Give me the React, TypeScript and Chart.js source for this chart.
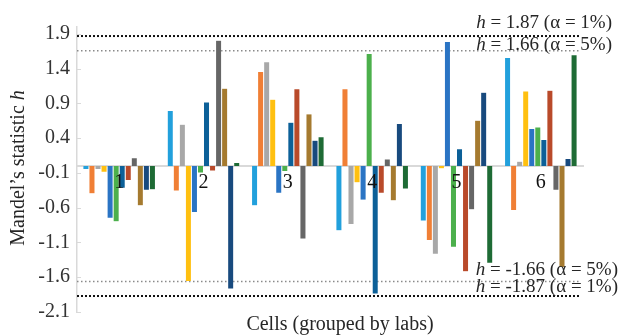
import React, { useEffect, useRef } from "react";
import { Chart, registerables } from "chart.js";

Chart.register(...registerables);

const labs = ["1", "2", "3", "4", "5", "6"];
const cellColors = [
  "#22a0dc", "#f07f35", "#a8a8a8", "#ffc010", "#2a74c4", "#4cb04c",
  "#0c6098", "#b94a2a", "#666666", "#a57a2f", "#184a7e", "#1e6b35",
];
const cell1 = [-0.05, 0.8, -0.57, -0.93, -0.79, 1.56];
const cell2 = [-0.4, -0.36, 1.36, 1.11, -1.07, -0.64];
const cell3 = [-0.05, 0.6, 1.5, -0.84, -1.27, 0.07];
const cell4 = [-0.09, -1.66, 0.96, -0.24, -0.04, 1.08];
const cell5 = [-0.75, -0.67, -0.39, -0.49, 1.79, 0.54];
const cell6 = [-0.8, -0.1, -0.08, 1.62, -1.17, 0.56];
const cell7 = [-0.32, 0.92, 0.63, -1.84, 0.25, 0.38];
const cell8 = [-0.21, -0.07, 1.11, -0.39, -1.52, 1.09];
const cell9 = [0.12, 1.81, -1.05, 0.1, -0.63, -0.35];
const cell10 = [-0.57, 1.12, 0.75, -0.5, 0.66, -1.46];
const cell11 = [-0.35, -1.77, 0.37, 0.61, 1.06, 0.11];
const cell12 = [-0.34, 0.05, 0.42, -0.33, -1.4, 1.6];
const cells = [cell1, cell2, cell3, cell4, cell5, cell6, cell7, cell8, cell9, cell10, cell11, cell12];

const yTicks = [-2.1, -1.6, -1.1, -0.6, -0.1, 0.4, 0.9, 1.4, 1.9];
const hValues = [1.87, 1.66, -1.66, -1.87];
const hAlpha = ["1%", "5%", "5%", "1%"];

const SERIF = "'Liberation Serif', 'Times New Roman', serif";

const overlay = {
  id: "overlay",
  beforeDatasetsDraw(chart: any) {
    const { ctx, chartArea, scales } = chart;
    const y = scales.y;
    ctx.save();
    ctx.strokeStyle = "#d9d9d9";
    ctx.lineWidth = 1;
    yTicks.forEach((t) => {
      const py = Math.round(y.getPixelForValue(t)) + 0.5;
      ctx.beginPath();
      ctx.moveTo(chartArea.left, py);
      ctx.lineTo(chartArea.left + 4, py);
      ctx.stroke();
    });
    hValues.forEach((v, i) => {
      const py = y.getPixelForValue(v);
      const strong = hAlpha[i] === "1%";
      ctx.strokeStyle = strong ? "#111" : "#8a8a8a";
      ctx.lineWidth = strong ? 2 : 1.5;
      ctx.setLineDash(strong ? [2, 2] : [1.5, 2.5]);
      ctx.beginPath();
      ctx.moveTo(chartArea.left, py);
      ctx.lineTo(chartArea.right - 4, py);
      ctx.stroke();
    });
    ctx.restore();
  },
  afterDraw(chart: any) {
    const { ctx } = chart;
    ctx.save();
    ctx.fillStyle = "#262626";
    ctx.textBaseline = "middle";
    const pos = [
      { x: 612, y: 23 },
      { x: 612, y: 45 },
      { x: 618, y: 270 },
      { x: 618, y: 287 },
    ];
    hValues.forEach((v, i) => {
      const rest = " = " + v.toFixed(2) + " (α = " + hAlpha[i] + ")";
      ctx.font = "19px " + SERIF;
      const wRest = ctx.measureText(rest).width;
      ctx.textAlign = "left";
      ctx.fillText(rest, pos[i].x - wRest, pos[i].y);
      ctx.font = "italic 19px " + SERIF;
      const wH = ctx.measureText("h").width;
      ctx.fillText("h", pos[i].x - wRest - wH, pos[i].y);
    });
    ctx.save();
    ctx.translate(19, 168);
    ctx.rotate(-Math.PI / 2);
    ctx.font = "20px " + SERIF;
    const t1 = "Mandel’s statistic ";
    const w1 = ctx.measureText(t1).width;
    ctx.font = "italic 20px " + SERIF;
    const w2 = ctx.measureText("h").width;
    const start = -(w1 + w2) / 2;
    ctx.font = "20px " + SERIF;
    ctx.textAlign = "left";
    ctx.fillText(t1, start, 0);
    ctx.font = "italic 20px " + SERIF;
    ctx.fillText("h", start + w1, 0);
    ctx.restore();
    ctx.font = "20px " + SERIF;
    ctx.textAlign = "center";
    ctx.fillText("Cells (grouped by labs)", 340, 325);
    ctx.restore();
  },
};

export default function App() {
  const ref = useRef<HTMLCanvasElement>(null);
  useEffect(() => {
    const chart = new Chart(ref.current!, {
      type: "bar",
      data: {
        labels: labs,
        datasets: cells.map((c, i) => ({
          label: "Cell " + (i + 1),
          data: c,
          backgroundColor: cellColors[i],
          borderColor: "rgba(255,255,255,0.35)",
          borderWidth: 0.5,
          barPercentage: 1,
          categoryPercentage: 0.86,
        })),
      },
      options: {
        animation: false,
        responsive: false,
        maintainAspectRatio: false,
        layout: { padding: { left: 0, top: 27, right: 39, bottom: 24 } },
        plugins: { legend: { display: false }, tooltip: { enabled: false } },
        scales: {
          x: {
            position: { y: 0 } as any,
            grid: { display: false, drawTicks: false },
            border: { display: true, color: "#d9d9d9", width: 2 },
            ticks: {
              z: 1,
              color: "#111",
              font: { family: SERIF, size: 20 },
              padding: 5,
              maxRotation: 0,
              autoSkip: false,
            },
          },
          y: {
            min: -2.1,
            max: 2.0,
            afterBuildTicks: (scale: any) => {
              scale.ticks = yTicks.map((v) => ({ value: v }));
            },
            afterFit: (scale: any) => {
              scale.width = 77;
            },
            grid: { display: false, drawTicks: false },
            border: { display: true, color: "#d9d9d9", width: 1.5 },
            ticks: {
              color: "#333",
              font: { family: SERIF, size: 20 },
              padding: 7,
              callback: (v: any) => Number(v).toFixed(1),
            },
          },
        },
      },
      plugins: [overlay],
    });
    return () => chart.destroy();
  }, []);
  return (
    <div style={{ position: "fixed", left: 0, top: 0, width: 622, height: 336, background: "#fff" }}>
      <canvas ref={ref} width={622} height={336} style={{ display: "block" }} />
    </div>
  );
}
